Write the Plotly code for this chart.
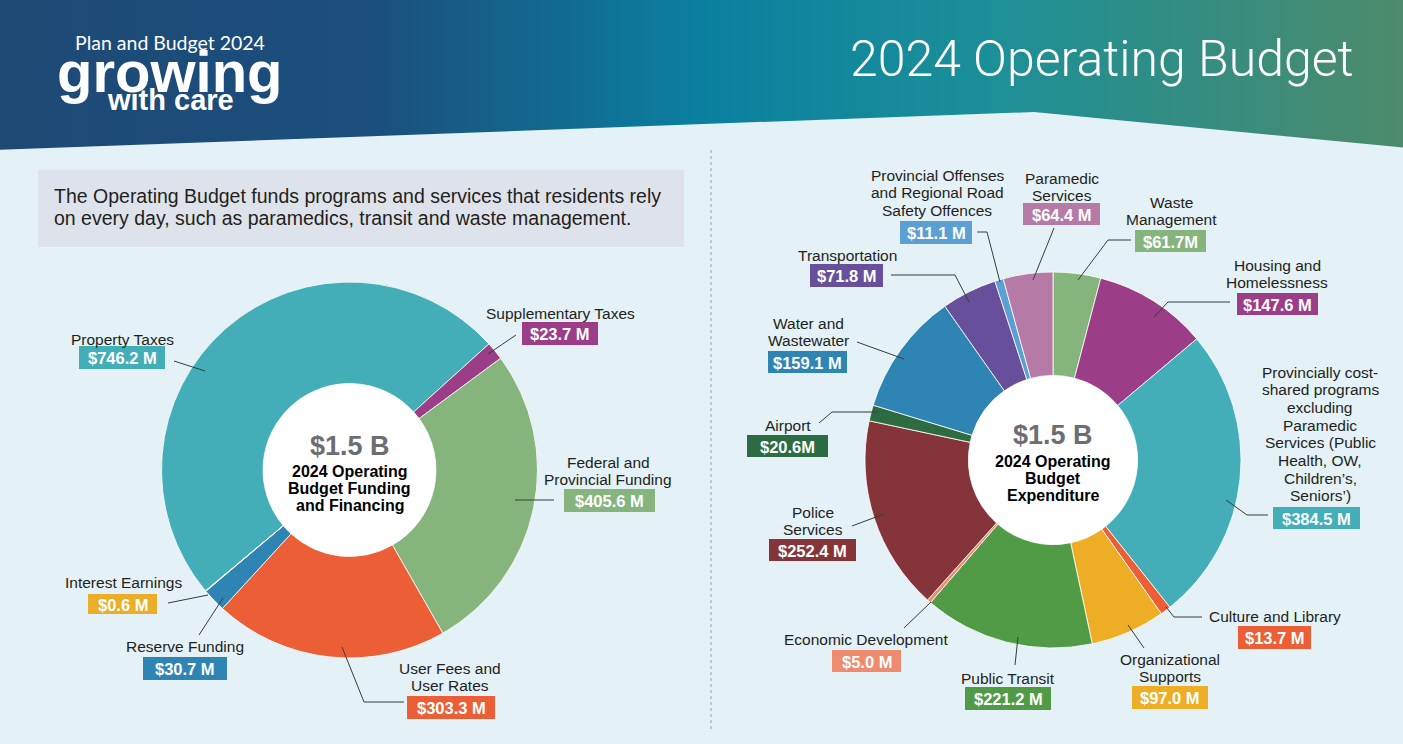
import plotly.graph_objects as go

W, H = 1403, 744

# ---------------- DATA ----------------
fund_categories = ["Property Taxes", "Supplementary Taxes", "Federal and Provincial Funding",
                   "User Fees and User Rates", "Reserve Funding", "Interest Earnings"]
fund_values = [746.2, 23.7, 405.6, 303.3, 30.7, 0.6]
fund_value_labels = ["$746.2 M", "$23.7 M", "$405.6 M", "$303.3 M", "$30.7 M", "$0.6 M"]
fund_colors = ["#43AEB8", "#9B3D87", "#85B47C", "#EC5F36", "#2E85B4", "#EBAE28"]
fund_label_lines = [["Property Taxes"], ["Supplementary Taxes"], ["Federal and", "Provincial Funding"],
                    ["User Fees and", "User Rates"], ["Reserve Funding"], ["Interest Earnings"]]

exp_categories = ["Waste Management", "Housing and Homelessness",
                  "Provincially cost-shared programs excluding Paramedic Services (Public Health, OW, Children’s, Seniors’)",
                  "Culture and Library", "Organizational Supports", "Public Transit", "Economic Development",
                  "Police Services", "Airport", "Water and Wastewater", "Transportation",
                  "Provincial Offenses and Regional Road Safety Offences", "Paramedic Services"]
exp_values = [61.7, 147.6, 384.5, 13.7, 97.0, 221.2, 5.0, 252.4, 20.6, 159.1, 71.8, 11.1, 64.4]
exp_value_labels = ["$61.7M", "$147.6 M", "$384.5 M", "$13.7 M", "$97.0 M", "$221.2 M", "$5.0 M",
                    "$252.4 M", "$20.6M", "$159.1 M", "$71.8 M", "$11.1 M", "$64.4 M"]
exp_colors = ["#85B47C", "#9B3D87", "#43AEB8", "#EC5F36", "#EDAE25", "#529B46", "#EE8B6F",
              "#853539", "#2D6C42", "#2E85B4", "#674F9B", "#5C9FD3", "#B57BA6"]
exp_label_lines = [["Waste", "Management"], ["Housing and", "Homelessness"],
                   ["Provincially cost-", "shared programs", "excluding", "Paramedic", "Services (Public",
                    "Health, OW,", "Children’s,", "Seniors’)"],
                   ["Culture and Library"], ["Organizational", "Supports"], ["Public Transit"],
                   ["Economic Development"], ["Police", "Services"], ["Airport"], ["Water and", "Wastewater"],
                   ["Transportation"], ["Provincial Offenses", "and Regional Road", "Safety Offences"],
                   ["Paramedic", "Services"]]

# ---------------- LAYOUT (pixel positions) ----------------
fund_center, exp_center, R = (349.5, 470), (1053, 460), 188
# label center x, first line y, value box (x0,y0,x1,y1), leader path
fund_label_pos = [
    (122, 339, (79, 346, 165, 369), [(174, 361), (205, 371)]),
    (560, 313, (522, 322, 598, 345), [(516, 335), (488, 354)]),
    (608, 462, (564, 489, 655, 512), [(515, 500), (554, 500)]),
    (450, 668, (407, 696, 495, 719), [(404, 702), (364, 702), (342, 647)]),
    (185, 646, (143, 657, 227, 680), [(199, 635), (223, 598)]),
    (123, 582, (88, 594, 157, 614), [(168, 603), (208, 595)]),
]
exp_label_pos = [
    (1171, 202, (1135, 230, 1206, 252), [(1131, 240), (1108, 240), (1078, 280)]),
    (1277, 265, (1237, 293, 1318, 315), [(1230, 302), (1168, 302), (1154, 317)]),
    (1320, 372, (1273, 507, 1360, 529), [(1268, 515), (1247, 515), (1226, 500)]),
    (1275, 616, (1238, 626, 1311, 649), [(1202, 617), (1174, 617), (1166, 607)]),
    (1170, 659, (1132, 686, 1208, 709), [(1144, 648), (1128, 625)]),
    (1008, 678, (965, 687, 1051, 710), [(1015, 665), (1018, 637)]),
    (866, 639, (832, 650, 901, 672), [(904, 628), (931, 602)]),
    (813, 512, (769, 539, 856, 561), [(852, 526), (884, 514)]),
    (788, 425, (747, 435, 828, 457), [(819, 423), (832, 412), (878, 412)]),
    (808, 323, (768, 351, 847, 373), [(857, 342), (904, 359)]),
    (847, 255, (810, 264, 883, 287), [(891, 275), (955, 275), (969, 302)]),
    (937, 175, (900, 221, 972, 244), [(977, 232), (987, 232), (1000, 282)]),
    (1062, 178, (1023, 203, 1100, 225), [(1054, 228), (1033, 280)]),
]

LABEL_FONT = "Liberation Sans, Arial, sans-serif"
TEXT_COLOR = "#231F20"
BG = "#E4F1F6"


def domain(c):
    cx, cy = c
    return dict(x=[(cx - R) / W, (cx + R) / W], y=[1 - (cy + R) / H, 1 - (cy - R) / H])


fig = go.Figure()

# header band with gradient
fig.add_trace(go.Scatter(
    x=[-5, W + 5, W + 5, 1034, -5, -5], y=[-5, -5, 148, 112, 150, -5],
    mode="lines", fill="toself", line=dict(width=0),
    fillgradient=dict(type="horizontal",
                      colorscale=[[0, "#1E4975"], [0.27, "#1B4F7D"], [0.5, "#0A80A0"],
                                  [0.7, "#1B8F98"], [1, "#4D8B6A"]]),
    hoverinfo="skip", showlegend=False))

fig.add_trace(go.Pie(labels=fund_categories, values=fund_values, marker=dict(colors=fund_colors,
              line=dict(color="white", width=0.8)), hole=0.46, sort=False, direction="clockwise",
              rotation=230, textinfo="none", hoverinfo="label+value", showlegend=False,
              domain=domain(fund_center)))
fig.add_trace(go.Pie(labels=exp_categories, values=exp_values, marker=dict(colors=exp_colors,
              line=dict(color="white", width=0.8)), hole=0.45, sort=False, direction="clockwise",
              rotation=0, textinfo="none", hoverinfo="label+value", showlegend=False,
              domain=domain(exp_center)))

shapes, annotations = [], []

# white centers
for (cx, cy), hr in [(fund_center, 0.46 * R + 4), (exp_center, 0.45 * R + 4)]:
    shapes.append(dict(type="circle", xref="x", yref="y", x0=cx - hr, x1=cx + hr, y0=cy - hr, y1=cy + hr,
                       fillcolor="white", line=dict(width=0), layer="below"))

# intro text box
shapes.append(dict(type="rect", xref="x", yref="y", x0=38, x1=684, y0=170, y1=247,
                   fillcolor="#DEE3EB", line=dict(width=0), layer="below"))
for i, t in enumerate(["The Operating Budget funds programs and services that residents rely",
                       "on every day, such as paramedics, transit and waste management."]):
    annotations.append(dict(x=52, y=196 + 22 * i, xref="x", yref="y", text=t, showarrow=False,
                            xanchor="left", yanchor="middle",
                            font=dict(family=LABEL_FONT, size=19.5, color=TEXT_COLOR)))

# divider
shapes.append(dict(type="line", xref="x", yref="y", x0=711, x1=711, y0=150, y1=730,
                   line=dict(color="#A8B0B5", width=1.2, dash="dot")))

# header texts
annotations += [
    dict(x=170, y=42, text="Plan and Budget 2024", font=dict(family="Lato, Open Sans, sans-serif", size=19.5,
         color="white")),
    dict(x=170, y=71, text="<b>growing</b>", font=dict(family=LABEL_FONT, size=58, color="white")),
    dict(x=170, y=100, text="<b>with care</b>", font=dict(family=LABEL_FONT, size=29, color="white")),
    dict(x=1102, y=59, text="2024 Operating Budget", font=dict(family="Roboto, sans-serif", size=50,
         color="white", weight=300)),
]
for a in annotations[-4:]:
    a.update(xref="x", yref="y", showarrow=False, xanchor="center", yanchor="middle")

# center texts
for (cx, cy), lines, top in [(fund_center, ["2024 Operating", "Budget Funding", "and Financing"], -24),
                            (exp_center, ["2024 Operating", "Budget", "Expenditure"], -25)]:
    annotations.append(dict(x=cx, y=cy + top, xref="x", yref="y", text="<b>$1.5 B</b>", showarrow=False,
                            font=dict(family=LABEL_FONT, size=27, color="#6D6E71"),
                            xanchor="center", yanchor="middle"))
    for i, t in enumerate(lines):
        annotations.append(dict(x=cx, y=cy + 1 + i * 17, xref="x", yref="y", text=f"<b>{t}</b>",
                                showarrow=False, font=dict(family=LABEL_FONT, size=16, color="black"),
                                xanchor="center", yanchor="middle"))


def add_labels(label_lines, value_labels, colors, positions):
    for lines, val, col, (lx, ly, box, lead) in zip(label_lines, value_labels, colors, positions):
        for i, t in enumerate(lines):
            annotations.append(dict(x=lx, y=ly + i * 17.7, xref="x", yref="y", text=t, showarrow=False,
                                    xanchor="center", yanchor="middle",
                                    font=dict(family=LABEL_FONT, size=15.5, color=TEXT_COLOR)))
        x0, y0, x1, y1 = box
        shapes.append(dict(type="rect", xref="x", yref="y", x0=x0, x1=x1, y0=y0, y1=y1,
                           fillcolor=col, line=dict(width=0)))
        annotations.append(dict(x=(x0 + x1) / 2, y=(y0 + y1) / 2 + 0.5, xref="x", yref="y",
                                text=f"<b>{val}</b>", showarrow=False, xanchor="center", yanchor="middle",
                                font=dict(family=LABEL_FONT, size=16.5, color="white")))
        path = "M " + " L ".join(f"{px},{py}" for px, py in lead)
        shapes.append(dict(type="path", xref="x", yref="y", path=path,
                           line=dict(color="#3A3A3A", width=1)))


add_labels(fund_label_lines, fund_value_labels, fund_colors, fund_label_pos)
add_labels(exp_label_lines, exp_value_labels, exp_colors, exp_label_pos)

fig.update_layout(
    width=W, height=H, margin=dict(l=0, r=0, t=0, b=0),
    paper_bgcolor=BG, plot_bgcolor=BG,
    xaxis=dict(range=[0, W], visible=False, fixedrange=True),
    yaxis=dict(range=[H, 0], visible=False, fixedrange=True),
    shapes=shapes, annotations=annotations, showlegend=False,
)

fig.write_html("out.html", config={"displayModeBar": False},
               post_script="document.body.style.margin='0';document.body.style.overflow='hidden';")
